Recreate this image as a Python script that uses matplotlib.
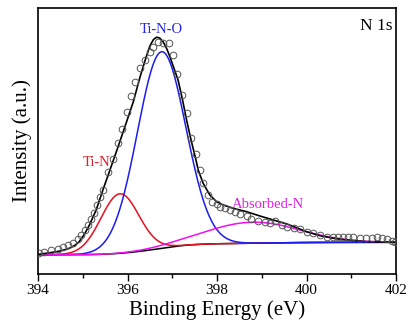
import numpy as np
import matplotlib
matplotlib.use("Agg")
import matplotlib.pyplot as plt

# ---------------- data ----------------
# measured points (open circles): binding energy (eV), intensity (a.u.)
data_ev = [394.03, 394.14, 394.29, 394.44, 394.55, 394.66, 394.78, 394.89, 394.96, 395.04,
           395.11, 395.19, 395.26, 395.32, 395.39, 395.45, 395.56, 395.68, 395.78, 395.88,
           395.98, 396.08, 396.17, 396.28, 396.39, 396.50, 396.58, 396.68, 396.79, 396.92,
           397.02, 397.11, 397.21, 397.32, 397.43, 397.53, 397.62, 397.69, 397.81, 397.88,
           397.99, 398.07, 398.18, 398.29, 398.40, 398.51, 398.66, 398.77, 398.92, 399.07,
           399.18, 399.30, 399.45, 399.56, 399.71, 399.85, 400.00, 400.15, 400.30, 400.45,
           400.60, 400.71, 400.82, 400.93, 401.05, 401.20, 401.34, 401.46, 401.57, 401.68,
           401.79, 401.91, 401.98]
data_int = [20.7, 22.3, 24.0, 25.0, 27.3, 29.0, 31.3, 34.7, 39.0, 44.0,
            49.0, 55.0, 61.3, 69.0, 77.0, 84.0, 102.0, 115.0, 131.0, 145.0,
            162.0, 178.0, 192.0, 206.0, 214.0, 222.0, 227.0, 232.0, 231.0, 231.3,
            219.0, 200.0, 179.0, 161.0, 136.0, 120.0, 104.0, 91.0, 79.0, 72.3,
            69.7, 67.3, 65.7, 64.0, 62.0, 60.0, 58.0, 54.7, 53.3, 52.3,
            50.7, 53.3, 49.0, 47.3, 45.7, 44.7, 42.3, 40.7, 39.0, 37.3,
            36.7, 37.3, 37.3, 36.7, 36.7, 35.7, 35.7, 36.3, 37.3, 35.7,
            34.7, 33.3, 32.3]

# overall fitted envelope (black line)
fit_ev = [394.00, 394.30, 394.50, 394.70, 394.82, 394.92, 395.04, 395.15, 395.30, 395.45,
          395.60, 395.79, 395.98, 396.13, 396.28, 396.41, 396.50, 396.58, 396.65, 396.72,
          396.80, 396.88, 396.95, 397.02, 397.13, 397.23, 397.32, 397.42, 397.53, 397.58,
          397.69, 397.84, 397.99, 398.14, 398.36, 398.66, 398.96, 399.26, 399.56, 399.71,
          400.00, 400.30, 400.60, 400.90, 401.35, 402.00]
fit_int = [19.5, 21.5, 23.0, 25.7, 28.5, 32.3, 40.0, 49.0, 64.0, 84.0,
           103.0, 127.3, 152.3, 172.3, 197.0, 216.0, 228.0, 234.5, 236.8, 236.0,
           232.0, 225.0, 217.0, 208.0, 194.0, 174.0, 154.0, 134.0, 114.0, 104.0,
           90.7, 79.0, 72.3, 69.0, 65.7, 62.3, 58.0, 54.0, 50.0, 47.5,
           42.3, 38.3, 35.7, 34.0, 32.3, 31.7]

# fitted components (Gaussian peaks on a Shirley background)
comp_names = ["Ti-N", "Ti-N-O", "Absorbed-N"]
comp_center = [395.83, 396.76, 398.80]   # eV
comp_height = [59.5, 196.6, 21.0]        # a.u. above background
comp_fwhm = [1.00, 1.27, 2.45]           # eV
bg_low, bg_high = 19.3, 31.7             # background level at 394 / 402 eV

comp_colors = ["#e8101e", "#1c1cf0", "#f010f0"]
label_colors = ["#e02028", "#2828d8", "#e020e0"]

# ---------------- figure ----------------
plt.rcParams["font.family"] = ["Liberation Serif", "DejaVu Serif"]
fig = plt.figure(figsize=(4.10, 3.34), dpi=100)
ax = fig.add_axes([38 / 410, 1 - 274 / 334, (396 - 38) / 410, (274 - 8) / 334])

E = np.linspace(394, 402, 801)
peaks = [h * np.exp(-4 * np.log(2) * (E - c) ** 2 / w ** 2)
         for c, h, w in zip(comp_center, comp_height, comp_fwhm)]
total = np.sum(peaks, axis=0)
cum = np.cumsum(total)
bg = bg_low + (bg_high - bg_low) * cum / cum[-1]

ax.plot(E, bg, color="black", lw=1.1, zorder=2)
for p, col in zip(peaks, comp_colors):
    ax.plot(E, bg + p, color=col, lw=1.1, zorder=3)
ax.plot(fit_ev, fit_int, color="black", lw=1.2, zorder=4)
ax.plot(data_ev, data_int, linestyle="none", marker="o", markersize=4.8,
        markerfacecolor="none", markeredgecolor="#555555", markeredgewidth=0.7, zorder=5)

# labels
label_pos = [(395.32, 108), (396.76, 241), (399.13, 65.5)]
for name, (x, y), col in zip(comp_names, label_pos, label_colors):
    ax.text(x, y, name, color=col, fontsize=10.5, ha="center", va="baseline", zorder=6)
ax.text(401.93, 244, "N 1s", fontsize=12.5, ha="right", va="baseline", color="black")

ax.set_xlim(394, 402)
ax.set_ylim(0, 266)
ax.set_xticks([394, 396, 398, 400, 402])
ax.set_xticks([395, 397, 399, 401], minor=True)
ax.set_yticks([])
ax.tick_params(axis="x", which="major", direction="out", length=5, width=1.0,
               labelsize=11, pad=2.5)
ax.tick_params(axis="x", which="minor", direction="out", length=3, width=1.0)
for s in ax.spines.values():
    s.set_linewidth(1.2)

ax.set_xlabel("Binding Energy (eV)", fontsize=15, labelpad=2)
ax.set_ylabel("Intensity (a.u.)", fontsize=15, labelpad=4)

fig.savefig("out.png", dpi=100)
